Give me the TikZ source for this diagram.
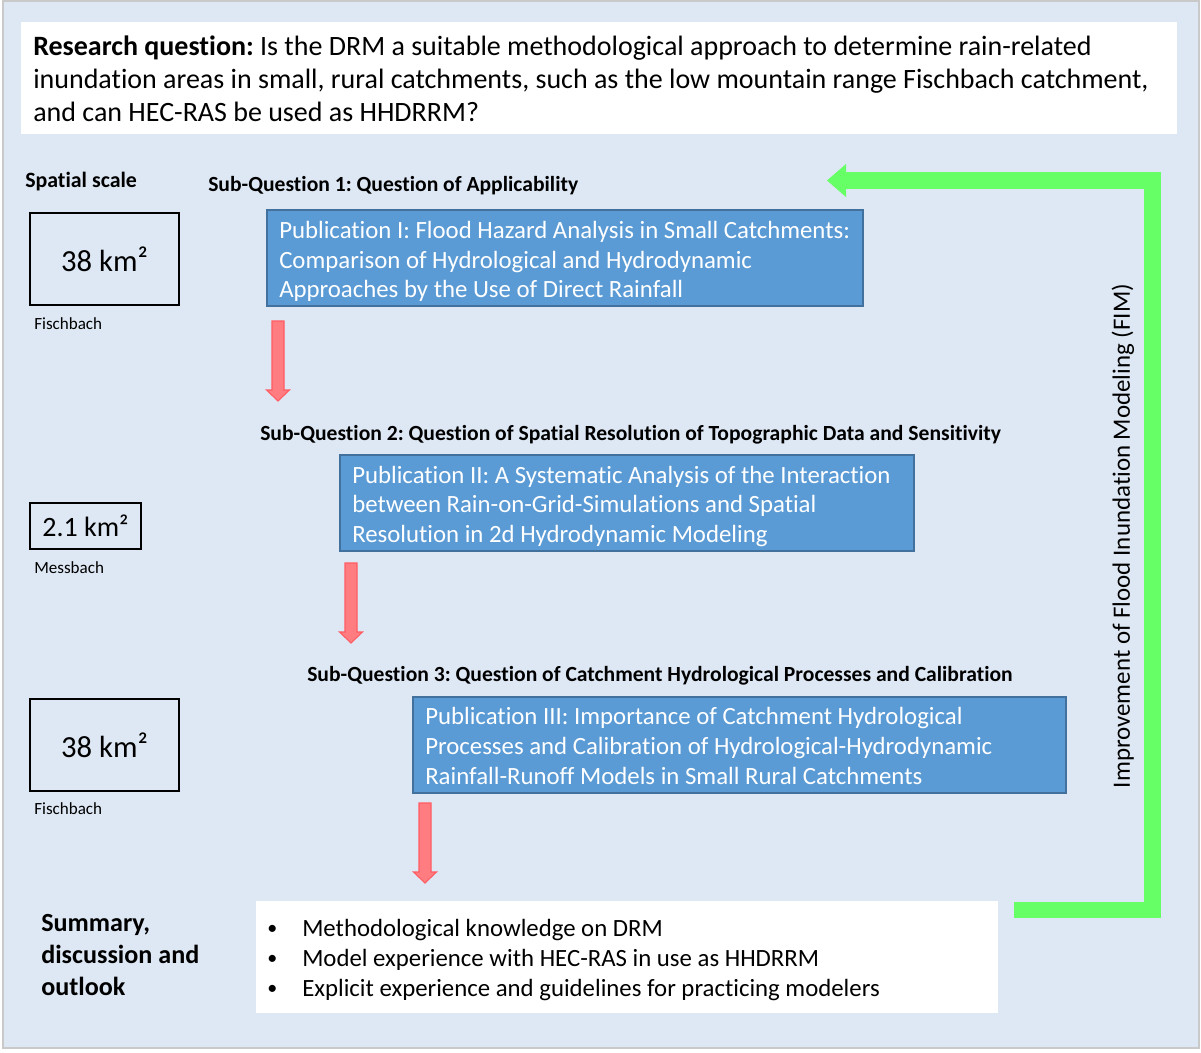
\documentclass[tikz,border=0pt]{standalone}
\usepackage{fontspec}
\setmainfont{Carlito}[RawFeature=-liga]
\usetikzlibrary{fit}
\definecolor{bgblue}{HTML}{DEE8F4}
\definecolor{pubfill}{HTML}{5B9BD5}
\definecolor{pubdraw}{HTML}{41719C}
\definecolor{arrowred}{HTML}{FF7C80}
\definecolor{arrowredline}{HTML}{FF5C63}
\definecolor{fimgreen}{HTML}{66FF66}
\definecolor{framegray}{HTML}{C9C9C9}
\newcommand{\sqkm}{km\raisebox{0.02em}{²}}
\newcommand{\blt}{{\fontsize{15}{15}\selectfont\textbullet}}
\frenchspacing
\tikzset{
  whitebox/.style={fill=white, draw=none, inner sep=0pt},
  pubbox/.style={fill=pubfill, draw=pubdraw, line width=1.2pt, inner sep=0pt},
  scalebox/.style={draw=black, line width=1.1pt, inner sep=0pt},
  pubtext/.style={anchor=west, inner sep=0pt, align=left, text=white, font=\fontsize{18.6}{22.2}\selectfont},
  subq/.style={anchor=west, inner sep=0pt, font=\bfseries\fontsize{16.2}{19}\selectfont},
  place/.style={anchor=west, inner sep=0pt, font=\fontsize{12.8}{15}\selectfont},
  downarrow/.pic={
    \filldraw[fill=arrowred, draw=arrowredline, line width=0.8pt]
      (-6,0) -- (6,0) -- (6,69) -- (11.5,69) -- (0,80) -- (-11.5,69) -- (-6,69) -- cycle;
  }
}
\begin{document}
\begin{tikzpicture}[x=0.75pt,y=-0.75pt]
\useasboundingbox (0,0) rectangle (1201,1052);
\fill[white] (0,0) rectangle (1201,1052);
\filldraw[fill=bgblue, draw=framegray, line width=1.5pt] (3,1.5) rectangle (1199,1048);

% research question
\node[whitebox, fit={(21,22) (1177,134)}] (rqbox) {};
\node[anchor=west, inner sep=0pt, align=left, font=\fontsize{21}{24.75}\selectfont] (rq) at (33,79)
 {\textbf{Research question:} Is the DRM a suitable methodological approach to determine rain-related\\
  inundation areas in small, rural catchments, such as the low mountain range Fischbach catchment,\\
  and can HEC-RAS be used as HHDRRM?};

% spatial scale column
\node[anchor=west, inner sep=0pt, font=\bfseries\fontsize{16.4}{19}\selectfont] (ss) at (25,182) {Spatial scale};
\node[scalebox, fit={(30,213) (179,305)}] (s1) {};
\node[inner sep=0pt, font=\fontsize{23}{27}\selectfont] (s1t) at (s1.center) {38 \sqkm};
\node[place] (p1) at (34,324) {Fischbach};
\node[scalebox, fit={(30,503) (141,549)}] (s2) {};
\node[inner sep=0pt, font=\fontsize{21}{25}\selectfont] (s2t) at (s2.center) {2.1 \sqkm};
\node[place] (p2) at (34,568) {Messbach};
\node[scalebox, fit={(30,699) (179,791)}] (s3) {};
\node[inner sep=0pt, font=\fontsize{23}{27}\selectfont] (s3t) at (s3.center) {38 \sqkm};
\node[place] (p3) at (34,809) {Fischbach};

% sub-questions
\node[subq] (q1) at (208,186) {Sub-Question 1: Question of Applicability};
\node[pubbox, fit={(267,210) (863,306)}] (b1) {};
\node[pubtext] (t1) at (279,261.5) {Publication I: Flood Hazard Analysis in Small Catchments:\\
 Comparison of Hydrological and Hydrodynamic\\ Approaches by the Use of Direct Rainfall};

\node[subq] (q2) at (260,435) {Sub-Question 2: Question of Spatial Resolution of Topographic Data and Sensitivity};
\node[pubbox, fit={(340,455) (914,551)}] (b2) {};
\node[pubtext] (t2) at (352,506.5) {Publication II: A Systematic Analysis of the Interaction\\
 between Rain-on-Grid-Simulations and Spatial\\ Resolution in 2d Hydrodynamic Modeling};

\node[subq] (q3) at (307,676) {Sub-Question 3: Question of Catchment Hydrological Processes and Calibration};
\node[pubbox, fit={(413,697) (1066,793)}] (b3) {};
\node[pubtext] (t3) at (425,746) {Publication III: Importance of Catchment Hydrological\\
 Processes and Calibration of Hydrological-Hydrodynamic\\ Rainfall-Runoff Models in Small Rural Catchments};

% red arrows
\pic at (278,321) {downarrow};
\pic at (351,563) {downarrow};
\pic at (425,803) {downarrow};

% summary
\node[anchor=west, inner sep=0pt, align=left, font=\bfseries\fontsize{19.6}{24}\selectfont] (sum) at (41,955)
 {Summary,\\ discussion and\\ outlook};
\node[whitebox, fit={(256,901) (998,1013)}] (lbox) {};
\node[anchor=west, inner sep=0pt, align=left, font=\fontsize{18.6}{22.5}\selectfont] (bul) at (267,960)
 {\blt\\ \blt\\ \blt};
\node[anchor=west, inner sep=0pt, align=left, font=\fontsize{18.6}{22.5}\selectfont] (lst) at (302,960)
 {Methodological knowledge on DRM\\ Model experience with HEC-RAS in use as HHDRRM\\ Explicit experience and guidelines for practicing modelers};

% FIM feedback arrow
\coordinate (g0) at (1014,910);
\coordinate (g1) at (1152.5,910);
\coordinate (g2) at (1152.5,180.5);
\coordinate (g3) at (845,180.5);
\draw[fimgreen, line width=12.5pt, line join=miter] (g0) -- (g1) -- (g2) -- (g3);
\fill[fimgreen] (827,180.5) -- (846,164) -- (846,197) -- cycle;
\node[rotate=90, inner sep=0pt, font=\fontsize{18.7}{22}\selectfont] (fim) at (1123,536) {Improvement of Flood Inundation Modeling (FIM)};
\end{tikzpicture}
\end{document}
